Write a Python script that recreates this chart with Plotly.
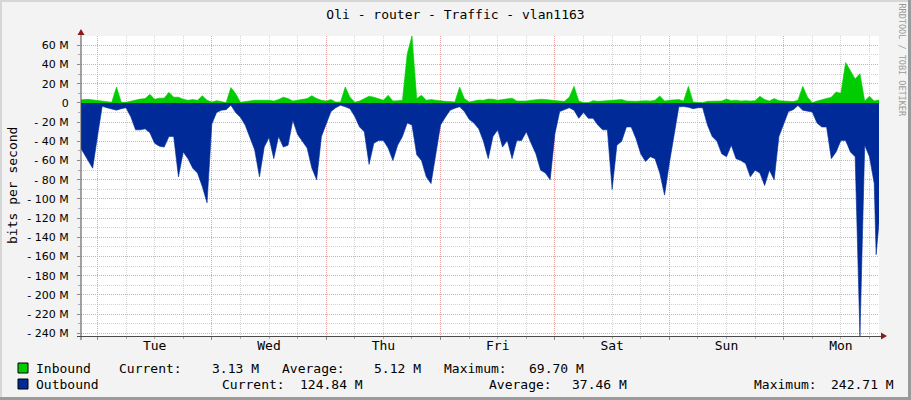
import plotly.graph_objects as go

# ---------------- data (hours since Tue 00:00) ----------------
HOURS = [-3.45] + list(range(-3, 164)) + [163.4, 164]

OUTBOUND = [
    -47.5,
    -51, -60, -68, -35, -3.5, -5, -6, -7.5, -6, -5,
    -14.5, -28, -28, -27, -31, -42, -45, -46, -35, -35,
    -77, -51, -58, -68, -73, -87, -104, -22, -10, -7.6,
    -7, -2.4, -10, -15, -23, -35, -49, -77, -46, -36,
    -58, -35, -46, -44, -18, -33, -40, -47, -68, -80,
    -35, -21, -9, -5, -2.4, -4, -6, -14, -25, -30,
    -64, -42, -39, -39, -47, -60, -44, -35, -21, -23,
    -54, -60, -77, -84, -53, -23, -15, -7.6, -5.5, -4,
    -9, -17, -21, -27, -40, -58, -35, -28, -46, -39,
    -58, -39, -39, -30, -42, -53, -70, -73, -80, -32,
    -9, -6.6, -5, -7.6, -16, -10, -16, -16, -23, -28,
    -28, -90, -44, -40, -25, -25, -37, -53, -61, -56,
    -58, -73, -96, -63, -35, -4, -3.8, -4.5, -6, -5,
    -5, -23, -35, -40, -53, -56, -44, -58, -60, -63,
    -77, -70, -73, -86, -70, -80, -35, -23, -9, -7,
    -2.8, -7.6, -8.7, -9.4, -21, -25, -25, -58, -51, -39,
    -39, -51, -56, -242.71, -44, -56, -84,
    -158, -124.84,
]

INBOUND = [
    2.8,
    3.5, 3.8, 3.1, 2.4, 1.4, 1, 0.7, 16.6, 0.7, 0.7,
    2, 3.5, 4, 4.5, 9, 3.8, 5, 5, 11, 6,
    6, 3.8, 2.8, 3.5, 2.8, 7.6, 2.8, 1, 2.4, 1.4,
    0.3, 16, 9.7, 0.7, 1.4, 2.8, 2.8, 2.8, 2.8, 2.8,
    2, 3.5, 6, 4.5, 2, 2.8, 3.5, 4.5, 7.6, 4.5,
    2.8, 2, 3.5, 1, 1, 16.6, 6, 0.7, 2, 4.5,
    7, 6, 4.5, 2.8, 8, 2, 2.4, 2.8, 51, 69.7,
    4.5, 8, 2.8, 3.5, 2.8, 2, 1.7, 1.4, 1, 16.6,
    4.5, 1, 2, 3, 2.8, 4, 3.8, 2.8, 3.5, 4.5,
    5, 2, 1.7, 2, 2.8, 3.5, 3.8, 3.5, 2.8, 2.4,
    2, 1.7, 6, 17.3, 2, 0.3, 0.3, 2.4, 1.7, 2,
    2.4, 2.4, 2.8, 3.5, 2, 1.7, 1.7, 2, 2.4, 2,
    2.8, 7.3, 2, 2.8, 2.8, 3.5, 2, 17.3, 1, 0.3,
    0.3, 1.7, 2, 2.4, 2, 4, 2.4, 2.8, 2, 2.4,
    2, 2.4, 7, 3.5, 2, 4.5, 2.4, 2, 1.7, 1.4,
    2.8, 17.3, 6, 0.3, 2, 3.5, 4.5, 6, 11.4, 10,
    42, 34, 25, 30.5, 2, 7, 2,
    2.5, 3.13,
]

DAY_LABELS = ["Tue", "Wed", "Thu", "Fri", "Sat", "Sun", "Mon"]
DAY_NOON = [12, 36, 60, 84, 108, 132, 156]
MIDNIGHTS = [0, 24, 48, 72, 96, 120, 144]

Y_TICKS = [60, 40, 20, 0, -20, -40, -60, -80, -100, -120, -140, -160,
           -180, -200, -220, -240]
Y_TEXT = ["60 M", "40 M", "20 M", "0", "- 20 M", "- 40 M", "- 60 M",
          "- 80 M", "- 100 M", "- 120 M", "- 140 M", "- 160 M",
          "- 180 M", "- 200 M", "- 220 M", "- 240 M"]

TITLE = "Oli - router - Traffic - vlan1163"
Y_TITLE = "bits per second"
SERIES = ["Inbound", "Outbound"]
CURRENT = ["3.13 M", "124.84 M"]
AVERAGE = ["5.12 M", "37.46 M"]
MAXIMUM = ["69.70 M", "242.71 M"]

X_RANGE = [-3.45, 164]
Y_RANGE = [-242.71, 69.70]

GREEN = "#00CC00"
BLUE = "#002A97"
MONO = "DejaVu Sans Mono"

# ---------------- geometry helpers (canvas px -> paper) ----------------
W, H = 911, 400
L, R, T, B = 81, 32, 36, 64
PW, PH = W - L - R, H - T - B


def px(x):
    return (x - L) / PW


def py(y):
    return (H - B - y) / PH


fig = go.Figure()
fig.add_trace(go.Scatter(x=HOURS, y=OUTBOUND, mode="lines", fill="tozeroy",
                         fillcolor=BLUE, line=dict(color=BLUE, width=0.6),
                         hoverinfo="skip", showlegend=False))
fig.add_trace(go.Scatter(x=HOURS, y=INBOUND, mode="lines", fill="tozeroy",
                         fillcolor=GREEN, line=dict(color=GREEN, width=0.6),
                         hoverinfo="skip", showlegend=False))

GRID_MINOR = "#D2D2D2"
GRID_MAJOR = "#E9A3A3"

fig.update_layout(
    width=W, height=H,
    margin=dict(l=L, r=R, t=T, b=B, pad=0, autoexpand=False),
    paper_bgcolor="#F3F3F3",
    plot_bgcolor="#FFFFFF",
    showlegend=False,
    title=dict(text=TITLE, x=0.5, xanchor="center", xref="container",
               y=1 - 14 / H, yanchor="middle", yref="container",
               font=dict(family=MONO, size=13, color="#000000")),
    xaxis=dict(range=X_RANGE, tickmode="array", tickvals=MIDNIGHTS,
               showticklabels=False, showgrid=True, gridcolor=GRID_MAJOR,
               griddash="1px,1px", gridwidth=1, zeroline=False,
               showline=False, ticks="outside", ticklen=3,
               tickcolor="#888888", automargin=False,
               minor=dict(tickmode="linear", tick0=0, dtick=6, showgrid=True,
                          gridcolor=GRID_MINOR, griddash="1px,1px",
                          gridwidth=1, ticks="outside", ticklen=2,
                          tickcolor="#AAAAAA")),
    xaxis2=dict(range=X_RANGE, overlaying="x", side="bottom",
                tickmode="array", tickvals=DAY_NOON, ticktext=DAY_LABELS,
                showgrid=False, zeroline=False, showline=False, ticks="",
                ticklabelstandoff=0, automargin=False,
                tickfont=dict(family=MONO, size=13, color="#000000")),
    yaxis=dict(range=Y_RANGE, tickmode="array", tickvals=Y_TICKS,
               ticktext=Y_TEXT, showgrid=True, gridcolor=GRID_MAJOR,
               griddash="1px,1px", gridwidth=1, zeroline=False,
               showline=False, ticks="outside", ticklen=3,
               tickcolor="#888888", ticklabelstandoff=6, automargin=False,
               tickfont=dict(family="DejaVu Sans", size=11, color="#000000"),
               minor=dict(tickmode="linear", tick0=0, dtick=10, showgrid=True,
                          gridcolor=GRID_MINOR, griddash="1px,1px",
                          gridwidth=1, ticks="outside", ticklen=2,
                          tickcolor="#AAAAAA")),
)
# invisible trace to activate xaxis2
fig.add_trace(go.Scatter(x=[X_RANGE[0]], y=[0], xaxis="x2", mode="markers",
                         marker=dict(opacity=0), hoverinfo="skip",
                         showlegend=False))

shapes = []
AX = "#4A4A4A"
ARROW = "#8E1B1B"
# axes lines
shapes.append(dict(type="line", xref="paper", yref="paper",
                   x0=px(77), x1=px(882), y0=py(336.5), y1=py(336.5),
                   line=dict(color=AX, width=1)))
shapes.append(dict(type="line", xref="paper", yref="paper",
                   x0=px(81), x1=px(81), y0=py(340), y1=py(33),
                   line=dict(color=AX, width=1)))
# arrows
shapes.append(dict(type="path", xref="paper", yref="paper",
                   path=f"M {px(77.5)} {py(35)} L {px(84.5)} {py(35)} L {px(81)} {py(29)} Z",
                   fillcolor=ARROW, line=dict(width=0)))
shapes.append(dict(type="path", xref="paper", yref="paper",
                   path=f"M {px(881)} {py(332.5)} L {px(881)} {py(339.5)} L {px(887)} {py(336)} Z",
                   fillcolor=ARROW, line=dict(width=0)))
# frame shading
shapes.append(dict(type="rect", xref="paper", yref="paper", x0=px(0), x1=px(W),
                   y0=py(0), y1=py(2), fillcolor="#D6D6D6", line=dict(width=0)))
shapes.append(dict(type="rect", xref="paper", yref="paper", x0=px(0), x1=px(2),
                   y0=py(0), y1=py(H), fillcolor="#D6D6D6", line=dict(width=0)))
shapes.append(dict(type="rect", xref="paper", yref="paper", x0=px(W - 3), x1=px(W),
                   y0=py(0), y1=py(H), fillcolor="#9B9B9B", line=dict(width=0)))
shapes.append(dict(type="rect", xref="paper", yref="paper", x0=px(0), x1=px(W),
                   y0=py(H - 3), y1=py(H), fillcolor="#9B9B9B", line=dict(width=0)))
# legend boxes
for i, col in enumerate([GREEN, BLUE]):
    yc = 368 + 16 * i
    shapes.append(dict(type="rect", xref="paper", yref="paper",
                       x0=px(18), x1=px(28), y0=py(yc + 5), y1=py(yc - 5),
                       fillcolor=col, line=dict(color="#000000", width=1)))
fig.update_layout(shapes=shapes)

ann = []


def text(x, y, s, anchor="left", size=13, color="#000000", angle=0, family=MONO):
    ann.append(dict(x=px(x), y=py(y), xref="paper", yref="paper", text=s,
                    showarrow=False, xanchor=anchor, yanchor="middle",
                    textangle=angle, font=dict(family=family, size=size, color=color)))


# legend rows
rows = [
    (368, 34, 117, 261, 280, 422.5, 441.7, 585.7),
    (384, 34, 220, 365, 486.6, 629, 751.7, 895.7),
]
for i, (yy, xn, xc, xcv, xa, xav, xm, xmv) in enumerate(rows):
    text(xn, yy, SERIES[i])
    text(xc, yy, "Current:")
    text(xcv, yy, CURRENT[i], anchor="right")
    text(xa, yy, "Average:")
    text(xav, yy, AVERAGE[i], anchor="right")
    text(xm, yy, "Maximum:")
    text(xmv, yy, MAXIMUM[i], anchor="right")

text(12, 186, Y_TITLE, anchor="center", angle=-90)
text(901.5, 60, "RRDTOOL / TOBI OETIKER", anchor="center", size=8.5,
     color="#9A9A9A", angle=90)

fig.update_layout(annotations=ann)
fig.write_html("out.html",
               config={"displayModeBar": False},
               post_script="document.body.style.margin='0';"
                           "document.body.style.padding='0';")
